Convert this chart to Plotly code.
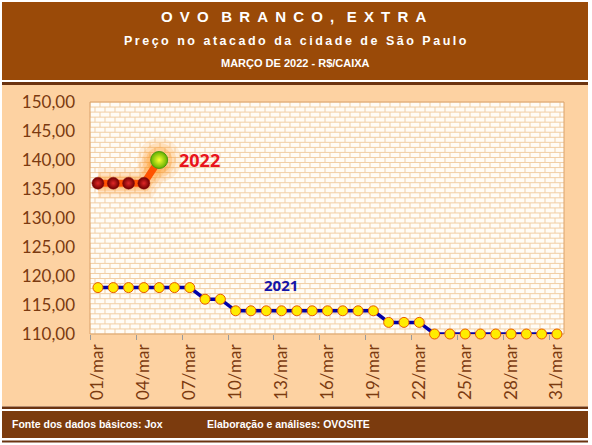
import plotly.graph_objects as go

# dias de março
dias = ["01/mar", "02/mar", "03/mar", "04/mar", "05/mar", "06/mar", "07/mar",
        "08/mar", "09/mar", "10/mar", "11/mar", "12/mar", "13/mar", "14/mar",
        "15/mar", "16/mar", "17/mar", "18/mar", "19/mar", "20/mar", "21/mar",
        "22/mar", "23/mar", "24/mar", "25/mar", "26/mar", "27/mar", "28/mar",
        "29/mar", "30/mar", "31/mar"]

# preços R$/caixa
preco_2021 = [118, 118, 118, 118, 118, 118, 118, 116, 116, 114, 114, 114, 114,
              114, 114, 114, 114, 114, 114, 112, 112, 112, 110, 110, 110, 110,
              110, 110, 110, 110, 110]
preco_2022 = [136, 136, 136, 136, 140]

ticks_x = ["01/mar", "04/mar", "07/mar", "10/mar", "13/mar", "16/mar",
           "19/mar", "22/mar", "25/mar", "28/mar", "31/mar"]

W, H = 592, 445
L, R, T, B = 90, 564, 102, 334


def px(x):
    return (x - L) / (R - L)


def py(y):
    return (B - y) / (B - T)


def caixa(x0, y0, x1, y1, cor):
    return dict(type="rect", xref="paper", yref="paper", layer="below",
                x0=px(x0), x1=px(x1), y0=py(y1), y1=py(y0),
                fillcolor=cor, line_width=0)


# tijolinhos do fundo
caminho = []
n_lin = 46
alt = (B - T) / n_lin
for i in range(n_lin + 1):
    y = T + i * alt
    caminho.append(f"M{px(L):.4f},{py(y):.4f}L{px(R):.4f},{py(y):.4f}")
for i in range(n_lin):
    y0 = T + i * alt
    y1 = y0 + alt
    x = L + (5 if i % 2 else 0)
    while x <= R:
        caminho.append(f"M{px(x):.4f},{py(y0):.4f}L{px(x):.4f},{py(y1):.4f}")
        x += 10

shapes = [
    caixa(2, 2, 588, 80, "#9a4a08"),
    caixa(2, 82, 588, 85, "#6b3310"),
    caixa(2, 85, 588, 406.5, "#fdd2a2"),
    caixa(2, 406.5, 588, 409, "#6b3310"),
    caixa(2, 411, 588, 438, "#7b3b0e"),
    caixa(2, 440.5, 588, 442.5, "#6b3310"),
    caixa(L, T, R, B, "#fffcf6"),
    dict(type="path", xref="paper", yref="paper", layer="below",
         path="".join(caminho), line=dict(color="#f1cea4", width=1)),
    dict(type="rect", xref="paper", yref="paper", layer="below",
         x0=0, x1=1, y0=0, y1=1, line=dict(color="#dca36a", width=1)),
]

fig = go.Figure()

# brilho da série 2022
for w, a in [(30, 0.10), (22, 0.14), (15, 0.22)]:
    fig.add_trace(go.Scatter(x=dias[:5], y=preco_2022, mode="lines",
                             line=dict(color=f"rgba(255,140,20,{a})", width=w),
                             hoverinfo="skip", cliponaxis=False))
for s, a in [(44, 0.12), (34, 0.18), (26, 0.25)]:
    fig.add_trace(go.Scatter(x=dias[4:5], y=preco_2022[4:5], mode="markers",
                             marker=dict(color=f"rgba(255,150,30,{a})", size=s),
                             hoverinfo="skip", cliponaxis=False))

fig.add_trace(go.Scatter(
    x=dias, y=preco_2021, mode="lines+markers", name="2021",
    line=dict(color="#0000a8", width=3.5),
    marker=dict(color="#ffec00", size=10, line=dict(color="#e85a00", width=1)),
    cliponaxis=False))

fig.add_trace(go.Scatter(
    x=dias[:5], y=preco_2022, mode="lines", name="2022",
    line=dict(color="#ff5200", width=7), cliponaxis=False))
fig.add_trace(go.Scatter(
    x=dias[:4], y=preco_2022[:4], mode="markers",
    marker=dict(color="#6e0000", size=12,
                gradient=dict(type="radial", color="#e02828"),
                line=dict(color="#901010", width=0.5)),
    cliponaxis=False))
fig.add_trace(go.Scatter(
    x=dias[4:5], y=preco_2022[4:5], mode="markers",
    marker=dict(color="#60b000", size=17,
                gradient=dict(type="radial", color="#ffff30"),
                line=dict(color="#4a9a10", width=1)),
    cliponaxis=False))

fig.add_annotation(x=5.15, y=140, xref="x", yref="y", text="<b>2022</b>",
                   showarrow=False, xanchor="left", yanchor="middle",
                   font=dict(family="Open Sans", size=18, color="#e8141c"))
fig.add_annotation(x=11.95, y=118.5, xref="x", yref="y", text="<b>2021</b>",
                   showarrow=False, yanchor="middle",
                   font=dict(family="Open Sans", size=15, color="#1414a8"))

nb = "\u00a0"
titulo = (nb * 3).join((nb + "\u2009").join(p)
                       for p in ["OVO", "BRANCO,", "EXTRA"])
sub = "\u2009".join("Preço no atacado da cidade de São Paulo")
textos = [
    (293, 16, "center", f"<b>{titulo}</b>", 15),
    (295, 41, "center", f"<b>{sub}</b>", 12.5),
    (295, 63, "center", "<b>MARÇO DE 2022 - R$/CAIXA</b>", 11),
    (10, 424, "left", "<b>Fonte dos dados básicos: Jox</b>", 10.5),
    (205, 424, "left", "<b>Elaboração e análises: OVOSITE</b>", 10.5),
]
for x, y, anc, txt, tam in textos:
    fig.add_annotation(x=px(x), y=py(y), xref="paper", yref="paper",
                       text=txt, showarrow=False, xanchor=anc,
                       yanchor="middle",
                       font=dict(family="Liberation Sans", size=tam,
                                 color="white"))

fig.update_layout(
    width=W, height=H,
    margin=dict(l=L, r=W - R, t=T, b=H - B),
    paper_bgcolor="white",
    plot_bgcolor="rgba(0,0,0,0)",
    showlegend=False,
    separators=",.",
    shapes=shapes,
)
fig.update_xaxes(type="category", categoryorder="array", categoryarray=dias,
                 range=[-0.52, 30.46], tickmode="array", tickvals=ticks_x,
                 tickangle=-90, ticks="outside", tickson="boundaries",
                 ticklen=5, tickcolor="#9a9a9a", showgrid=False,
                 showline=False, zeroline=False, ticklabelstandoff=6,
                 tickfont=dict(family="Lato", size=17, color="#7b3a10"))
fig.update_yaxes(range=[110, 150], dtick=5, tickformat=".2f",
                 showgrid=False, zeroline=False, showline=False,
                 ticklabelstandoff=14,
                 tickfont=dict(family="Lato", size=17, color="#7b3a10"))

# sem a margem padrão do body, para a figura ocupar a janela toda
fig.write_html("out.html", config={"displayModeBar": False},
               post_script="document.body.style.margin='0';")
